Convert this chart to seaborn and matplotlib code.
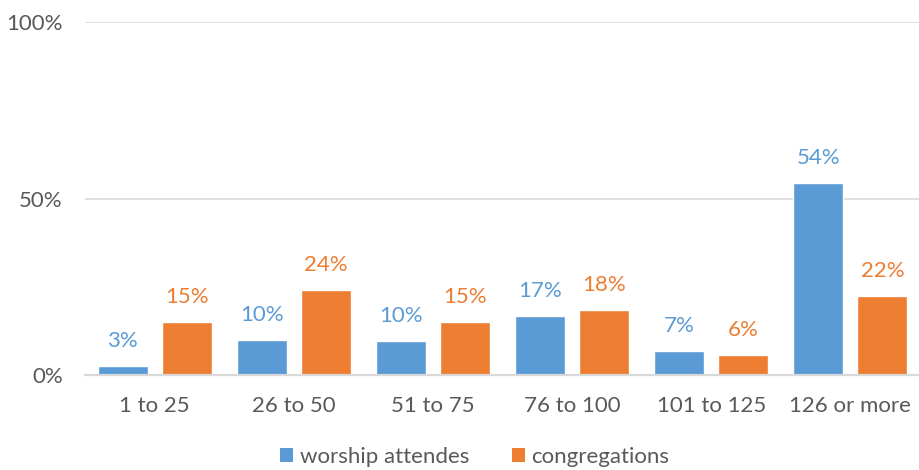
import matplotlib
matplotlib.use("Agg")
import matplotlib.pyplot as plt
from matplotlib.patches import Patch
import seaborn as sns
import pandas as pd

# Congregation size bands and the share of each measure falling in them
categories = ["1 to 25", "26 to 50", "51 to 75", "76 to 100", "101 to 125", "126 or more"]
worship_attendes = [2.6, 9.9, 9.6, 16.7, 6.6, 54.3]
congregations = [15.0, 24.1, 15.0, 18.3, 5.6, 22.4]
series_names = ["worship attendes", "congregations"]
y_ticks = [0, 50, 100]

BLUE = "#5B9BD5"
ORANGE = "#ED7D31"
TEXT = "#595959"
GRID = "#D9D9D9"
FS = 16

sns.set_theme(style="white")
plt.rcParams["font.family"] = ["Lato", "DejaVu Sans"]

df = pd.DataFrame({
    "size": categories * 2,
    "share": worship_attendes + congregations,
    "series": [series_names[0]] * len(categories) + [series_names[1]] * len(categories),
})

fig = plt.figure(figsize=(9.2, 4.7), dpi=100)
ax = fig.add_axes([0.0924, 0.2028, 0.9076, 0.7494])

sns.barplot(
    data=df, x="size", y="share", hue="series",
    palette=[BLUE, ORANGE], saturation=1, width=0.92, gap=0.22,
    order=categories, hue_order=series_names,
    errorbar=None, legend=False, ax=ax,
)

ax.set_xlim(-0.5, len(categories) - 0.5)
ax.set_ylim(0, 100)
ax.set_yticks(y_ticks)
ax.set_yticklabels([f"{t}%" for t in y_ticks])
ax.set_xlabel("")
ax.set_ylabel("")

ax.grid(axis="y", color=GRID, linewidth=1.2)
ax.set_axisbelow(True)
for side in ["top", "right", "left"]:
    ax.spines[side].set_visible(False)
ax.spines["bottom"].set_color(GRID)
ax.spines["bottom"].set_linewidth(1.6)
ax.tick_params(axis="both", length=0, labelsize=FS, labelcolor=TEXT)
ax.tick_params(axis="x", pad=15)
ax.tick_params(axis="y", pad=16)

# Value labels above each bar, coloured like their series
for container, color in zip(ax.containers, [BLUE, ORANGE]):
    for bar in container:
        h = bar.get_height()
        ax.annotate(
            f"{h:.0f}%", (bar.get_x() + bar.get_width() / 2, h),
            xytext=(0, 19), textcoords="offset pixels",
            ha="center", va="baseline", fontsize=FS, color=color,
        )

handles = [Patch(facecolor=BLUE, edgecolor="none"), Patch(facecolor=ORANGE, edgecolor="none")]
fig.legend(
    handles, series_names, loc="center", bbox_to_anchor=(0.516, 0.028),
    ncol=2, frameon=False, fontsize=FS, labelcolor=TEXT,
    handlelength=0.6, handleheight=0.6, handletextpad=0.3, columnspacing=1.9,
)

fig.savefig("out.png", dpi=100)
